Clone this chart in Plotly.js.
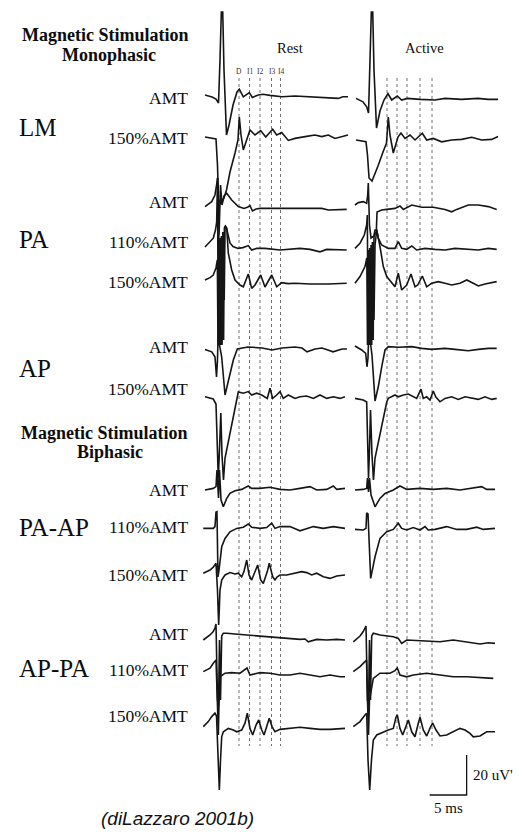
<!DOCTYPE html>
<html>
<head>
<meta charset="utf-8">
<script src="https://cdn.plot.ly/plotly-3.0.1.min.js"></script>
<style>
  html, body { margin: 0; padding: 0; background: #fff; }
  #fig { width: 526px; height: 832px; }
</style>
</head>
<body>
<div id="fig"></div>
<script>
// Epidural recordings of descending volleys after transcranial magnetic stimulation.
// Each recording: [time after stimulus (ms), amplitude (µV)] pairs.

// ---- Monophasic, latero-medial (LM) coil ----
const LM_AMT_REST = [[-1.76,0.5],[-0.81,-0.5],[-0.27,-1.5],[0.07,-3.5],[0.27,18],[0.45,42],[0.64,42],[0.81,13],[1.15,-19.5],[1.49,-14.5],[2.03,-4.5],[2.57,2],[2.88,3.4],[3.42,-0.4],[4.23,1.7],[4.64,-0.7],[5.45,0.5],[6.08,0.9],[7.03,0.3],[8.65,-0.4],[10.41,0],[12.7,-0.4],[14.86,-0.7],[16.22,-1.2],[16.89,-0.4],[17.57,-0.4]];
const LM_AMT_ACTIVE = [[-1.62,-1.2],[-0.68,-2.9],[-0.18,-5.4],[0.07,-8.5],[0.27,18],[0.45,42],[0.64,42],[0.81,13],[1.15,-16],[1.62,-7.5],[2.16,-2],[2.7,1.2],[3.2,-2],[3.96,0],[4.55,-2],[5.31,-1.2],[7.03,-1.7],[9.05,-2],[10.41,-1.2],[12.66,-1.7],[14.86,-1.2],[16.22,-1.7],[17.57,-1.7]];
const LM_150_REST = [[-1.76,0.5],[-0.81,0],[-0.27,-0.5],[-0.07,-13.5],[0.07,-31],[0.41,-33],[0.81,-30],[1.15,-26],[1.62,-17],[2.3,-7.5],[2.7,-1],[2.88,10.5],[3.11,1.5],[3.42,-6],[3.92,0],[4.32,4],[5.0,1.5],[5.77,3.7],[6.45,0.5],[7.39,4.4],[7.93,1.5],[8.61,2.7],[9.5,-1.2],[10.41,-0.2],[11.76,0.7],[13.11,1.5],[14.01,0.7],[14.91,1.5],[15.81,-0.2],[16.72,0.7],[17.57,1.5]];
const LM_150_ACTIVE = [[-1.62,-1],[-0.27,-1.9],[-0.07,-8.5],[0.14,-20],[0.54,-21.5],[0.95,-18],[1.35,-14],[2.03,-7],[2.5,-2.5],[2.74,10.5],[2.97,1.5],[3.42,-7.5],[4.05,0.5],[4.46,2.5],[5.0,-0.2],[5.68,1.5],[6.35,-1],[7.34,2.4],[7.93,-1],[8.82,-0.2],[9.96,-1.9],[11.31,-1],[12.66,-0.7],[14.01,0.4],[15.36,-1],[16.72,-0.7],[17.57,0.7]];

// ---- Monophasic, posterior-anterior (PA) ----
const PA_AMT_REST = [[-1.76,0.7],[-0.85,3.2],[-0.41,6.5],[-0.18,11],[-0.04,15],[0.14,-13.5],[0.34,11.5],[0.54,1.5],[0.81,6],[1.18,7.4],[1.85,4],[2.74,0.7],[3.51,-0.2],[4.05,0.5],[4.32,1.2],[4.66,-1.5],[5.14,-0.5],[5.68,-0.2],[7.03,-0.2],[9.73,0],[12.43,-0.2],[14.01,-0.2],[14.91,-1],[16.72,-0.7],[17.39,-0.7]];
const PA_AMT_ACTIVE = [[-1.76,1.5],[-1.31,2.7],[-0.64,3.2],[-0.18,2.4],[-0.04,6.5],[0.04,12.5],[0.2,-8.5],[0.41,-15],[0.81,-14],[1.12,-12],[1.22,-2],[1.85,-1],[2.53,-0.7],[3.65,-0.2],[4.32,1],[4.77,-0.7],[5.91,1.5],[7.26,0.4],[8.82,0.4],[10.41,-0.7],[11.31,-1.9],[11.99,-0.7],[13.55,1.5],[14.91,1.5],[16.26,0.7],[17.39,-0.7]];
const PA_110_REST = [[-1.76,0.5],[-1.08,3],[-0.64,4.9],[-0.34,9],[-0.18,13],[-0.07,35],[0.03,-36],[0.11,6.5],[0.2,-43.5],[0.3,4],[0.41,-41],[0.51,1.5],[0.62,-36],[0.73,-1],[0.84,-26],[0.95,11],[1.18,9.5],[1.62,2.5],[2.03,0.7],[2.7,-0.2],[3.38,0.2],[4.09,1.2],[4.55,-1],[5.23,-0.2],[6.35,-0.2],[8.38,-1],[9.73,-0.5],[11.08,-0.2],[12.43,-0.7],[13.78,-1.9],[14.69,-0.7],[15.81,-0.7],[17.39,-1]];
const PA_110_ACTIVE = [[-1.76,-0.2],[-1.08,2.4],[-0.5,6.5],[-0.18,11.5],[-0.09,16.5],[0,-41],[0.09,-3.5],[0.19,-46],[0.28,-5],[0.38,-43.5],[0.47,-7],[0.58,-41],[0.69,-8.5],[0.81,-36],[0.95,1.5],[1.18,9],[1.39,4.9],[1.85,1.5],[2.74,-0.2],[3.65,-0.2],[4.09,3.2],[4.55,-0.2],[5.23,-0.7],[5.91,1],[6.58,-1],[7.7,-0.2],[9.05,-0.7],[10.41,-1],[11.76,-0.2],[13.11,-0.7],[14.91,-1],[16.26,-0.2],[17.39,-0.7]];
const PA_150_REST = [[-1.76,2],[-1.08,3.2],[-0.64,4.5],[-0.27,8],[-0.09,12],[0,-30.5],[0.08,22],[0.18,-30.5],[0.27,23],[0.36,-30.5],[0.46,24],[0.55,-30.5],[0.65,26],[0.76,-28],[0.86,28],[1.01,29],[1.18,28],[1.39,15.5],[1.85,7],[2.3,2],[2.97,-0.5],[3.42,-1.4],[4.09,5],[4.55,-2.2],[5.0,-0.5],[5.77,4.5],[6.35,-1.5],[7.26,4.5],[7.93,-1.4],[8.61,0.7],[9.46,0.2],[10.41,0.4],[12.43,0],[14.91,0],[17.39,0.4]];
const PA_150_ACTIVE = [[-1.76,0.4],[-1.08,3.7],[-0.41,8.7],[-0.16,13],[-0.07,-30.5],[0.03,17],[0.12,-30.5],[0.22,18],[0.31,-30.5],[0.41,19.5],[0.5,-30.5],[0.59,21],[0.7,-28],[0.81,24.5],[0.95,27],[1.18,27],[1.62,18.7],[2.07,8.7],[2.53,3.7],[3.2,0.4],[3.65,-1.4],[4.09,5.4],[4.55,-3],[5.23,-0.5],[5.81,5],[6.35,-1.4],[6.72,-0.5],[7.34,4],[7.93,-1.4],[8.61,0.4],[9.5,1.2],[10.41,0.4],[11.31,-0.5],[12.43,0.4],[13.34,2],[14.23,0.4],[14.91,-1],[15.81,0],[17.39,1.2]];

// ---- Monophasic, anterior-posterior (AP) ----
const AP_AMT_REST = [[-1.76,-0.7],[-0.85,-1.9],[-0.41,-4.4],[-0.2,-14.5],[-0.07,-6],[0.07,13],[0.2,1.5],[0.5,-4.5],[0.95,-23.5],[1.39,-16],[2.07,-6],[2.61,-0.5],[4.05,0.5],[5.95,0],[7.3,-1],[8.65,0],[10.41,0.5],[11.35,0],[12.03,-1.9],[13.11,-0.5],[14.05,0],[14.86,-1],[15.54,-1.9],[16.76,-0.5],[17.43,-0.5]];
const AP_AMT_ACTIVE = [[-1.76,1],[-0.85,-1],[-0.31,-2.7],[-0.14,-9.4],[0,-5],[0.14,13],[0.27,4],[0.54,-3.5],[0.95,-26.5],[1.39,-19.4],[1.85,-9.4],[2.3,-1],[2.74,0.7],[4.09,0.4],[5.91,0.7],[7.26,-0.2],[8.61,-0.7],[10.41,-0.2],[11.76,-0.7],[13.55,-1.4],[14.91,-0.7],[16.26,-0.2],[17.39,-0.2]];
const AP_150_REST = [[-1.76,-0.4],[-0.64,-1.5],[-0.27,-4],[-0.14,-22],[0.04,-41],[0.2,-27],[0.38,-8.5],[0.54,-29.5],[0.74,-42],[0.95,-31],[1.62,-18.5],[2.3,-6],[2.74,2],[3.42,1.4],[4.09,2.2],[4.55,0.5],[5.23,1.4],[5.91,0.5],[6.66,-1.2],[7.03,3.9],[7.39,-1.2],[7.93,0.5],[8.38,2.2],[8.82,-1.2],[9.5,0.5],[10.41,-1.2],[11.08,-0.4],[11.99,0],[12.88,-1.2],[13.78,0.5],[14.69,-1.2],[15.58,-0.4],[16.49,-1.2],[17.16,-0.4]];
const AP_150_ACTIVE = [[-1.76,-1.2],[-0.64,-2],[-0.18,-3],[-0.07,-22],[0.07,-41],[0.2,-27],[0.34,-7],[0.54,-29.5],[0.74,-42],[0.95,-31],[1.62,-19.5],[2.53,-3],[2.74,-1.2],[3.2,-0.4],[3.65,0.5],[4.09,-0.4],[4.77,0.5],[5.45,1],[6.12,-0.4],[6.58,-1.2],[7.16,3.4],[7.47,-1.2],[7.93,-0.4],[8.38,-2],[8.82,2.5],[9.15,-0.4],[9.73,-2.9],[10.41,-1.2],[11.31,-0.4],[12.2,-1.7],[13.11,-0.4],[14.01,-1.2],[14.91,-1.7],[15.81,-0.4],[16.72,-1.7],[17.39,-1.2]];

// ---- Biphasic, PA-AP ----
const PAAP_AMT_REST = [[-1.76,-1],[-0.64,-0.2],[-0.27,0.7],[-0.14,9],[0.07,-5],[0.2,9],[0.41,-6],[0.72,-9.4],[1.18,-5.2],[1.62,-2.7],[2.3,-1.4],[3.2,-0.7],[4.09,1],[4.55,-0.2],[5.68,-0.2],[7.03,0.4],[8.38,-0.7],[9.73,-1],[11.08,-0.2],[12.43,0.7],[13.34,-1],[14.69,-0.7],[15.58,1],[16.04,-0.7],[17.16,-0.2]];
const PAAP_AMT_ACTIVE = [[-1.76,-1],[-0.64,-0.7],[-0.18,-0.2],[-0.07,5],[0.07,-2],[0.2,5],[0.41,-3.5],[0.95,-9.4],[1.62,-5.2],[2.3,-2.7],[3.42,-1],[4.32,1],[5.23,-0.7],[7.03,-0.2],[8.82,-0.7],[10.63,-0.2],[12.43,-1],[13.78,-0.2],[15.36,0.7],[16.04,-0.7],[17.16,-0.7]];
const PAAP_110_REST = [[-1.99,-0.2],[-0.64,-0.2],[-0.41,0.7],[-0.27,8],[-0.14,8.2],[0,-24.5],[0.14,-21],[0.5,-9.4],[0.95,-5.2],[1.62,-1.9],[2.53,-0.2],[3.42,0.4],[4.09,2],[4.55,0.4],[5.68,-0.2],[6.58,0.2],[7.26,2.4],[7.7,-0.2],[8.38,0.7],[9.73,0.7],[11.08,-1.4],[11.99,-0.2],[12.88,0.7],[14.23,-0.2],[15.58,0.7],[17.16,-0.2]];
const PAAP_110_ACTIVE = [[-1.76,-0.7],[-0.64,-1],[-0.27,-0.2],[-0.18,7.5],[0,7],[0.14,-6],[0.36,-25.2],[0.95,-14.4],[1.62,-5.2],[2.53,-1.9],[3.42,-0.7],[4.09,2.4],[4.55,-0.2],[5.23,-1],[6.12,0.2],[7.03,-1],[7.7,0.7],[8.15,-1],[9.05,-0.7],[10.63,0.7],[11.99,-0.7],[13.34,-0.7],[14.69,0.4],[15.58,-0.7],[17.16,-0.2]];
const PAAP_150_REST = [[-1.99,0.4],[-1.08,2],[-0.64,3.4],[-0.27,5.4],[-0.07,-8],[0.09,-25.5],[0.27,-8],[0.5,-3],[0.95,-0.5],[1.62,0.7],[2.3,0],[2.74,0.4],[3.2,-1.4],[3.51,1.2],[3.88,7],[4.19,-0.5],[4.55,-3],[5.0,1.2],[5.36,4.5],[5.77,-3],[6.12,-4.7],[6.66,1.2],[6.93,5.4],[7.39,-1.4],[7.7,-3],[8.01,-1.4],[8.38,-0.5],[9.28,-0.5],[10.41,0.4],[11.31,1.2],[11.99,0.7],[12.66,-0.5],[13.34,0.4],[14.23,-1.4],[15.14,-2.2],[16.04,-1],[17.16,-0.5]];

// ---- Biphasic, AP-PA ----
const APPA_AMT_REST = [[-1.99,-3],[-1.08,-0.5],[-0.64,1.2],[-0.41,3],[-0.27,5],[-0.07,-33],[0.07,-36],[0.2,-3],[0.34,-33],[0.5,-1],[0.72,0.4],[1.18,0.4],[2.3,0],[3.88,-0.5],[5.68,-1],[7.48,-1.4],[9.28,-2.2],[11.08,-2.7],[11.76,-2.5],[12.2,-3.9],[13.34,-2.7],[14.69,-3],[16.04,-2.7],[17.16,-3]];
const APPA_AMT_ACTIVE = [[-1.99,-3.9],[-1.08,-1],[-0.64,1.2],[-0.27,4],[-0.07,-33],[0.07,-36],[0.2,-3],[0.34,-33],[0.5,-1],[0.72,0.4],[1.62,-0.5],[3.42,-1.4],[4.09,-2.2],[4.55,-4.7],[5.23,-3],[7.03,-3.4],[9.73,-3.9],[11.53,-3],[13.34,-3.9],[15.14,-5],[16.26,-4.4],[17.16,-4.7]];
const APPA_110_REST = [[-1.99,1.2],[-1.08,2.9],[-0.64,5.4],[-0.27,7],[-0.09,-13],[0.04,-30.5],[0.18,-8],[0.27,-1.4],[0.95,0.4],[1.85,0.7],[2.97,0.4],[3.65,2],[3.92,3],[4.32,-0.5],[5.0,0],[5.68,0.7],[7.03,0.4],[8.38,-0.5],[9.73,-0.5],[11.08,0.4],[12.43,-0.5],[13.78,-1.4],[15.14,-0.5],[16.49,-1.4],[17.16,-1.4]];
const APPA_110_ACTIVE = [[-1.99,1.2],[-1.08,3.7],[-0.41,6.2],[-0.2,7],[-0.07,-13],[0.07,-30.5],[0.2,-13],[0.41,-8],[0.72,-2.2],[1.62,0.4],[2.97,0.4],[3.65,1.7],[3.96,3],[4.32,-0.5],[5.23,-1.4],[6.12,-0.5],[7.93,0.4],[9.73,-0.5],[11.53,-1.4],[13.34,-1.4],[15.14,-1.7],[16.93,-2.2]];
const APPA_150_REST = [[-1.99,0.7],[-1.31,3.2],[-0.85,5.7],[-0.41,7.4],[-0.2,6],[0,-16],[0.18,-31],[0.34,-16],[0.5,-4.4],[0.72,-1.9],[1.39,-0.2],[2.07,-1],[2.53,-1.9],[3.2,-1],[3.65,2.4],[3.96,7.4],[4.32,-0.2],[4.69,-3.5],[5.14,1.5],[5.5,4],[5.91,-1],[6.22,-3.5],[6.66,2.4],[6.93,4.9],[7.3,0.7],[7.7,-1.9],[8.38,-0.7],[9.73,-0.2],[11.08,0.4],[12.43,-0.2],[13.78,-0.7],[15.14,-0.7],[16.49,-0.2],[17.16,-0.2]];
const APPA_150_ACTIVE = [[-1.99,0.7],[-1.08,3.2],[-0.41,6.5],[-0.18,7.4],[0,-16],[0.23,-31],[0.47,-16],[0.72,-6],[1.18,-3.5],[2.07,-1.9],[2.74,-1],[3.42,-0.2],[3.78,5.4],[3.96,6.5],[4.32,-0.2],[4.69,-3.5],[5.14,0.7],[5.45,4],[5.91,-1.9],[6.35,-4.4],[6.8,2.4],[7.03,5.4],[7.47,-1],[7.93,-4],[8.47,0.7],[8.74,2.4],[9.19,-1],[9.73,-4],[10.63,-3.5],[11.53,-1.9],[12.43,-0.2],[13.11,-1],[13.78,-2.7],[14.23,-4.4],[15.14,-4],[16.04,-1.9],[17.16,-1.9]];

// Latencies (ms) of the D wave and the I1–I4 waves
const WAVE_NAMES = ['D', 'I1', 'I2', 'I3', 'I4'];
const REST_WAVE_MS = [2.84, 4.26, 5.68, 7.23, 8.45];
const ACTIVE_WAVE_MS = [2.57, 3.92, 5.27, 7.03, 8.65];

// Row labels (stimulus intensity) and coil orientation groups
const ROW_LABELS = ['AMT', '150%AMT', 'AMT', '110%AMT', '150%AMT', 'AMT', '150%AMT',
                    'AMT', '110%AMT', '150%AMT', 'AMT', '110%AMT', '150%AMT'];
const GROUP_LABELS = ['LM', 'PA', 'AP', 'PA-AP', 'AP-PA'];

// Calibration
const SCALE_MS = 5;
const SCALE_UV = 20;

// ---------- layout geometry ----------
const W = 526, H = 832;
const MS_PER_PX = 1 / 7.4, UV_PER_PX = 0.5;
const STIM_PX = 218;                 // stimulus instant in the Rest column
const ACTIVE_SHIFT_MS = 150 * MS_PER_PX;
const X_RANGE = [-STIM_PX * MS_PER_PX, (W - STIM_PX) * MS_PER_PX];
const Y_RANGE = [0, H * UV_PER_PX];
const ROW_BASE_UV = [368, 347, 312, 292, 274, 242, 218, 172, 152, 129, 99, 79, 52];
const ROW_LABEL_PX = [97.7, 138, 201.7, 241.7, 281.7, 346.7, 389, 490, 526.7, 575, 634, 670, 716];
const GROUP_LABEL_PX = [127, 240, 368, 527, 668];
const WAVE_LINE_UV = [377, 43];
const SCALE_CORNER = [33.6, 18.5];

const recordings = [
  [LM_AMT_REST, 0, 0], [LM_AMT_ACTIVE, 0, 1],
  [LM_150_REST, 1, 0], [LM_150_ACTIVE, 1, 1],
  [PA_AMT_REST, 2, 0], [PA_AMT_ACTIVE, 2, 1],
  [PA_110_REST, 3, 0], [PA_110_ACTIVE, 3, 1],
  [PA_150_REST, 4, 0], [PA_150_ACTIVE, 4, 1],
  [AP_AMT_REST, 5, 0], [AP_AMT_ACTIVE, 5, 1],
  [AP_150_REST, 6, 0], [AP_150_ACTIVE, 6, 1],
  [PAAP_AMT_REST, 7, 0], [PAAP_AMT_ACTIVE, 7, 1],
  [PAAP_110_REST, 8, 0], [PAAP_110_ACTIVE, 8, 1],
  [PAAP_150_REST, 9, 0],
  [APPA_AMT_REST, 10, 0], [APPA_AMT_ACTIVE, 10, 1],
  [APPA_110_REST, 11, 0], [APPA_110_ACTIVE, 11, 1],
  [APPA_150_REST, 12, 0], [APPA_150_ACTIVE, 12, 1]
];

const INK = '#151515';
const SERIF = 'Liberation Serif, Times New Roman, serif';
const traces = [];

// dotted latency markers
[[REST_WAVE_MS, 0], [ACTIVE_WAVE_MS, ACTIVE_SHIFT_MS]].forEach(([lat, shift]) => {
  lat.forEach(t => {
    traces.push({
      x: [t + shift, t + shift], y: WAVE_LINE_UV, mode: 'lines', hoverinfo: 'skip',
      line: { color: '#707070', width: 1, dash: 'dot' }, showlegend: false
    });
  });
});

// recordings
recordings.forEach(([pts, row, col]) => {
  const shift = col ? ACTIVE_SHIFT_MS : 0;
  traces.push({
    x: pts.map(p => p[0] + shift),
    y: pts.map(p => p[1] + ROW_BASE_UV[row]),
    mode: 'lines', line: { color: INK, width: 1.6 }, showlegend: false, hoverinfo: 'skip'
  });
});

// calibration bar
traces.push({
  x: [SCALE_CORNER[0] - SCALE_MS, SCALE_CORNER[0], SCALE_CORNER[0]],
  y: [SCALE_CORNER[1], SCALE_CORNER[1], SCALE_CORNER[1] + SCALE_UV],
  mode: 'lines', line: { color: INK, width: 1.3 }, showlegend: false, hoverinfo: 'skip'
});

const px = x => x / W;
const py = y => 1 - y / H;
const ann = (text, x, y, size, xanchor, extra) => Object.assign({
  text, xref: 'paper', yref: 'paper', x: px(x), y: py(y), xanchor, yanchor: 'middle',
  showarrow: false, font: { family: SERIF, size, color: '#0d0d0d' }
}, extra || {});

const annotations = [
  ann('<b>Magnetic Stimulation</b>', 105, 35, 18, 'center'),
  ann('<b>Monophasic</b>', 109, 55, 18, 'center'),
  ann('Rest', 290, 48, 14.5, 'center'),
  ann('Active', 424, 48, 14.5, 'center'),
  ann('<b>Magnetic Stimulation</b>', 104, 433, 18, 'center'),
  ann('<b>Biphasic</b>', 110, 452, 18, 'center'),
  ann('20 uV\'', 471, 775, 15, 'left'),
  ann('5 ms', 448, 808, 15, 'center'),
  ann('<i>(diLazzaro 2001b)</i>', 177, 818, 19, 'center',
      { font: { family: 'Liberation Sans, Arial, sans-serif', size: 19, color: '#111' } })
];
ROW_LABELS.forEach((t, i) => annotations.push(ann(t, 190, ROW_LABEL_PX[i], 17.5, 'right')));
GROUP_LABELS.forEach((t, i) => annotations.push(ann(t, 17, GROUP_LABEL_PX[i], 25, 'left')));
WAVE_NAMES.forEach((t, i) => annotations.push({
  text: t, xref: 'x', yref: 'y', x: REST_WAVE_MS[i], y: 380.5, xanchor: 'center', yanchor: 'middle',
  showarrow: false, font: { family: SERIF, size: 7.5, color: '#333' }
}));

const layout = {
  width: W, height: H,
  margin: { l: 0, r: 0, t: 0, b: 0 },
  paper_bgcolor: '#fff', plot_bgcolor: '#fff',
  xaxis: { range: X_RANGE, visible: false, fixedrange: true },
  yaxis: { range: Y_RANGE, visible: false, fixedrange: true },
  annotations, showlegend: false
};

Plotly.newPlot('fig', traces, layout, { staticPlot: true, displayModeBar: false });
</script>
</body>
</html>
